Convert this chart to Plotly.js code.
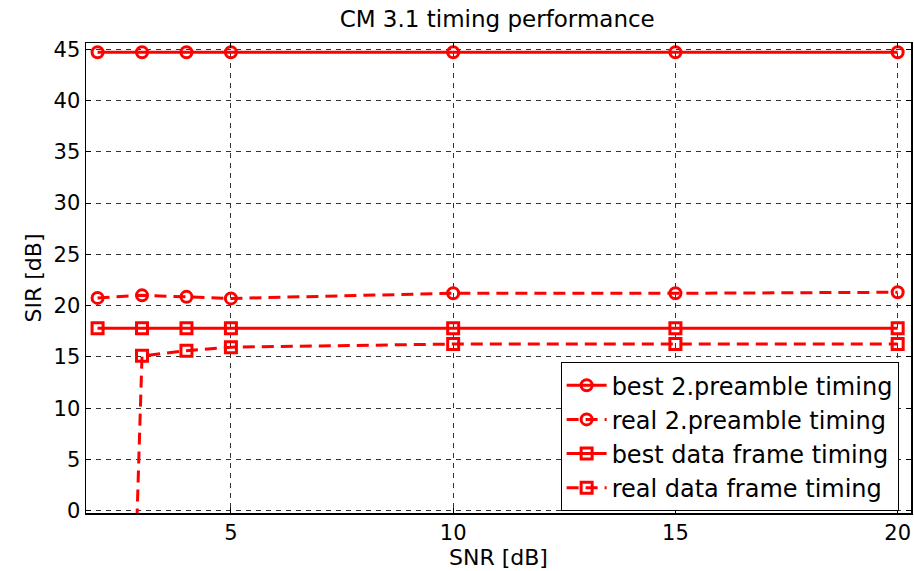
<!DOCTYPE html>
<html><head><meta charset="utf-8">
<script src="https://cdn.plot.ly/plotly-3.0.1.min.js"></script>
<style>html,body{margin:0;padding:0;background:#fff}</style>
</head><body><div id="chart" style="width:914px;height:571px"></div>
<script>
const snr = [2, 3, 4, 5, 10, 15, 20];
const bestPreamble = [44.7, 44.7, 44.7, 44.7, 44.7, 44.7, 44.7];
const realPreamble = [20.75, 21.0, 20.85, 20.7, 21.2, 21.2, 21.3];
const bestData = [17.8, 17.8, 17.8, 17.8, 17.8, 17.8, 17.8];
const realData = [-125, 15.1, 15.6, 15.95, 16.25, 16.25, 16.25];
const names = ['best 2.preamble timing', 'real 2.preamble timing', 'best data frame timing', 'real data frame timing'];
const yTicks = [0, 5, 10, 15, 20, 25, 30, 35, 40, 45];
const xTicks = [5, 10, 15, 20];

const red = '#ff0000';
function tr(y, name, dash, sym) {
  return {x: snr, y: y, name: name, type: 'scatter', mode: 'lines+markers',
    line: {color: red, width: 3, dash: dash},
    marker: {symbol: sym, size: 11, color: red, line: {width: 3, color: red}},
    cliponaxis: true};
}
const data = [
  tr(bestPreamble, names[0], 'solid', 'circle-open'),
  tr(realPreamble, names[1], '12px,7px', 'circle-open'),
  tr(bestData, names[2], 'solid', 'square-open'),
  tr(realData, names[3], '12px,7px', 'square-open')
];
const font = 'DejaVu Sans, Verdana, sans-serif';
const layout = {
  width: 914, height: 571,
  margin: {l: 86, r: 3, t: 43, b: 58},
  paper_bgcolor: '#fff', plot_bgcolor: '#fff',
  font: {family: font, color: '#000', size: 21},
  title: {text: 'CM 3.1 timing performance', font: {size: 23, family: font}, x: 0.544, xanchor: 'center', y: 0.966, yanchor: 'middle'},
  xaxis: {range: [1.74, 20.3], tickvals: xTicks, ticktext: xTicks.map(String),
    showline: true, linecolor: '#000', linewidth: 1.5, mirror: 'ticks', ticks: 'inside', ticklen: 5, tickcolor: '#000',
    showgrid: true, gridcolor: '#333', griddash: '5px,5px', gridwidth: 1, zeroline: false,
    tickfont: {size: 21}, title: {text: 'SNR [dB]', font: {size: 22}, standoff: 0}},
  yaxis: {range: [-0.22, 45.6], tickvals: yTicks, ticktext: yTicks.map(String),
    showline: true, linecolor: '#000', linewidth: 1.5, mirror: 'ticks', ticks: 'inside', ticklen: 5, tickcolor: '#000',
    showgrid: true, gridcolor: '#333', griddash: '5px,5px', gridwidth: 1, zeroline: false,
    tickfont: {size: 21}, title: {text: 'SIR [dB]', font: {size: 22}, standoff: 6}},
  legend: {x: 0.985, xanchor: 'right', y: 0.004, yanchor: 'bottom', bgcolor: '#fff', bordercolor: '#000', borderwidth: 1,
    font: {size: 24, family: font}, itemwidth: 40, tracegroupgap: 0},
  showlegend: true
};
Plotly.newPlot('chart', data, layout, {displayModeBar: false, staticPlot: true});
</script></body></html>
